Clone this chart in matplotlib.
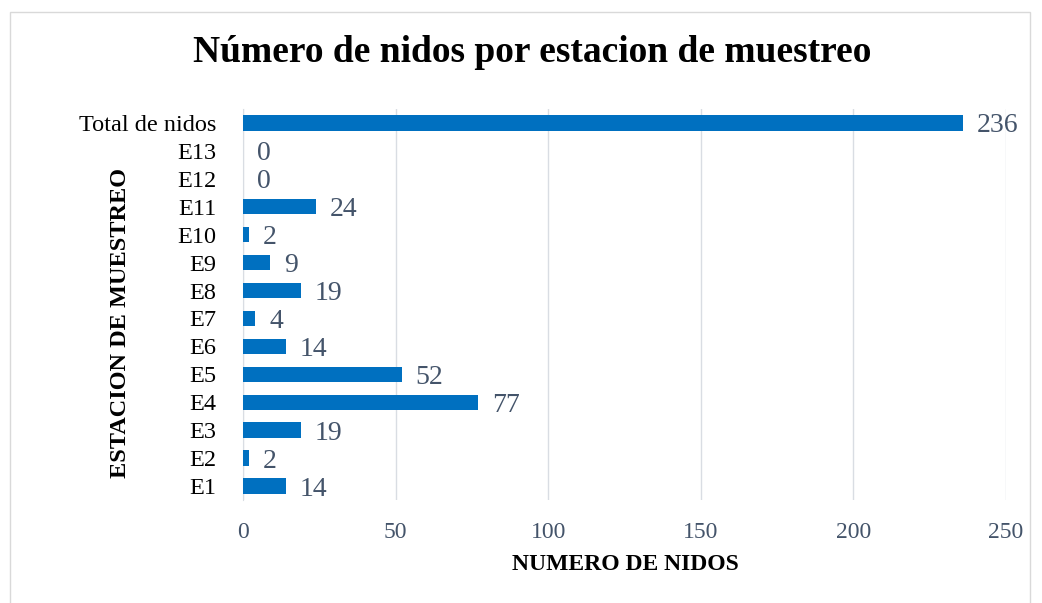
import matplotlib.pyplot as plt
from matplotlib.patches import Rectangle

# data (bottom to top)
estaciones = ['E1', 'E2', 'E3', 'E4', 'E5', 'E6', 'E7', 'E8', 'E9', 'E10',
              'E11', 'E12', 'E13', 'Total de nidos']
nidos = [14, 2, 19, 77, 52, 14, 4, 19, 9, 2, 24, 0, 0, 236]
xticks = [0, 50, 100, 150, 200, 250]

plt.rcParams['font.family'] = ['Liberation Serif', 'DejaVu Serif']

bar_color = '#0070C0'
label_color = '#44546A'
grid_color = '#D9DDE3'

fig = plt.figure(figsize=(10.42, 6.03), dpi=100)
W, H = 1042, 603

# chart border
fig.patches.append(Rectangle((10 / W, -0.01), 1020 / W, 1 - 12 / H + 0.01,
                             transform=fig.transFigure, fill=False,
                             edgecolor='#D9D9D9', linewidth=1))

ax = fig.add_axes([243 / W, 1 - 500 / H, (1006 - 243) / W, 391 / H])
ypos = list(range(len(estaciones)))
ax.barh(ypos, nidos, height=0.55, color=bar_color, zorder=3)

for y, v in zip(ypos, nidos):
    ax.annotate(str(v), (v, y), xytext=(10, 0), textcoords='offset points',
                va='center_baseline', ha='left', fontsize=20, color=label_color,
                annotation_clip=False)

ax.set_xlim(0, 250)
ax.set_ylim(-0.5, len(estaciones) - 0.5)
ax.set_xticks(xticks)
ax.set_yticks(ypos)
ax.set_yticklabels(estaciones, fontsize=17.5, color='black')
ax.tick_params(axis='x', labelsize=17, labelcolor=label_color, length=0, pad=16)
ax.tick_params(axis='y', length=0, pad=19)
ax.grid(axis='x', color=grid_color, linewidth=1, zorder=0)
for s in ['top', 'right', 'bottom']:
    ax.spines[s].set_visible(False)
ax.spines['left'].set_color(grid_color)

fig.text(625 / W, 1 - 565 / H, 'NUMERO DE NIDOS', fontsize=17,
         fontweight='bold', ha='center', va='center')
fig.text(121 / W, 1 - 323 / H, 'ESTACION DE MUESTREO', rotation=90,
         fontsize=17.5, fontweight='bold', ha='center', va='center')

fig.text(532 / W, 1 - 53 / H, 'Número de nidos por estacion de muestreo',
         fontsize=27, fontweight='bold', ha='center', va='center')

fig.savefig('out.png', dpi=100)
